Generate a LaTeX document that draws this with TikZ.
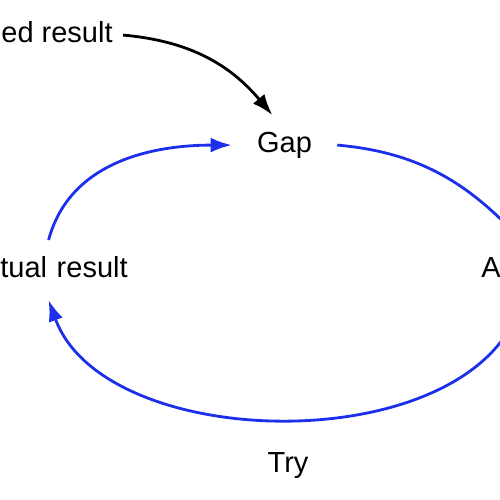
\documentclass[tikz,border=0pt]{standalone}
\usepackage{fontspec}
\setmainfont{Liberation Sans}
\usetikzlibrary{positioning,arrows.meta}
\definecolor{loopblue}{RGB}{28,48,235}

\begin{document}
\begin{tikzpicture}[
  term/.style={font=\fontsize{16.5}{20}\selectfont, text height=12pt,
               text depth=3pt, inner xsep=0.5cm, inner ysep=0.33cm},
  flow/.style={draw=loopblue, line width=1.6pt},
  >={Latex[length=12pt,width=8.5pt]}
]
  \useasboundingbox (0,0) rectangle (10,10);
  \clip (0,0) rectangle (10,10);

  \node[term, anchor=base] (gap) at (5.69,6.94) {Gap};
  \node[term, anchor=base east, inner xsep=0.2cm] (desired) at (2.46,9.14) {ed result};
  \node[term, anchor=base east, text width=90pt, align=right] (actual) at (3.06,4.44) {tual result};
  \node[term, anchor=base west, text width=46pt, align=left] (action) at (9.12,4.44) {A};
  \node[term, anchor=base] (try) at (5.76,0.54) {Try};

  \draw[->, line width=1.6pt] (desired.east) to[out=-5, in=130] (gap.112);
  \draw[flow, ->] (actual.north) to[out=75, in=180] (gap.west);
  \draw[flow, ->] (gap.east) to[out=-5, in=135] (action.north);
  \draw[flow, ->] (action.south) to[out=-105, in=-70, looseness=0.9] (actual.south);
\end{tikzpicture}
\end{document}
